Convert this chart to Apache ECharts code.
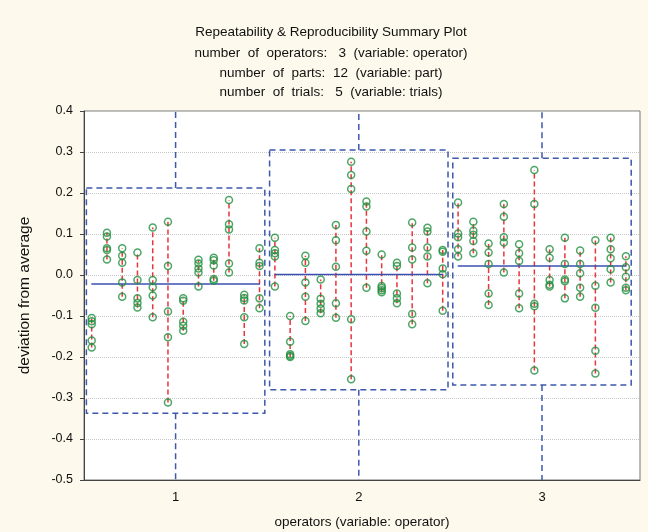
<!DOCTYPE html>
<html><head><meta charset="utf-8">
<script src="https://cdn.jsdelivr.net/npm/echarts@6/dist/echarts.min.js"></script>
<style>html,body{margin:0;padding:0;background:#fdf9ec}#c{width:648px;height:532px}</style>
</head><body><div id="c"></div>
<script>
// ---- text ----
const titleLines = [
  'Repeatability & Reproducibility Summary Plot',
  'number  of  operators:   3  (variable: operator)',
  'number  of  parts:  12  (variable: part)',
  'number  of  trials:   5  (variable: trials)'
];
const xAxisTitle = 'operators (variable: operator)';
const yAxisTitle = 'deviation from average';

// ---- categories / ticks ----
const operators = [1, 2, 3];
const yMin = -0.5, yMax = 0.4, yStep = 0.1;

// ---- per-operator summaries ----
const boxHigh = [0.212, 0.305, 0.285];
const boxLow = [-0.337, -0.28, -0.268];
const whiskerHigh = [0.4, 0.4, 0.4];
const whiskerLow = [-0.5, -0.5, -0.5];
const means = [-0.022, 0.001, 0.022];

// ---- measurements: operator -> part (12) -> trials (5) ----
const op1 = [
  [-0.105, -0.113, -0.12, -0.16, -0.177],
  [0.103, 0.094, 0.065, 0.061, 0.038],
  [0.065, 0.047, 0.03, -0.018, -0.053],
  [0.055, -0.012, -0.057, -0.068, -0.079],
  [0.116, -0.012, -0.03, -0.05, -0.103],
  [0.13, 0.022, -0.089, -0.152, -0.311],
  [-0.057, -0.063, -0.114, -0.124, -0.136],
  [0.037, 0.028, 0.016, 0.006, -0.028],
  [0.042, 0.036, 0.023, -0.01, -0.014],
  [0.183, 0.124, 0.111, 0.028, 0.006],
  [-0.048, -0.056, -0.062, -0.103, -0.168],
  [0.065, 0.03, 0.022, -0.057, -0.081]
];
const op2 = [
  [0.091, 0.061, 0.053, 0.045, -0.028],
  [-0.1, -0.163, -0.193, -0.197, -0.2],
  [0.047, 0.03, -0.018, -0.053, -0.112],
  [-0.011, -0.058, -0.07, -0.082, -0.093],
  [0.122, 0.085, 0.02, -0.069, -0.104],
  [0.276, 0.244, 0.21, -0.108, -0.254],
  [0.179, 0.167, 0.106, 0.059, -0.031],
  [0.05, -0.027, -0.032, -0.037, -0.042],
  [0.03, 0.022, -0.045, -0.057, -0.069],
  [0.128, 0.067, 0.038, -0.095, -0.12],
  [0.115, 0.106, 0.067, 0.045, -0.02],
  [0.061, 0.057, 0.016, 0.002, -0.087]
];
const op3 = [
  [0.177, 0.101, 0.092, 0.063, 0.045],
  [0.13, 0.108, 0.098, 0.083, 0.053],
  [0.077, 0.055, 0.027, -0.045, -0.073],
  [0.173, 0.142, 0.092, 0.079, 0.006],
  [0.075, 0.053, 0.034, -0.045, -0.081],
  [0.256, 0.173, -0.07, -0.076, -0.233],
  [0.063, 0.042, -0.012, -0.024, -0.028],
  [0.091, 0.027, -0.011, -0.015, -0.057],
  [0.06, 0.027, 0.004, -0.031, -0.053],
  [0.085, -0.026, -0.08, -0.185, -0.24],
  [0.091, 0.063, 0.041, 0.014, -0.018],
  [0.046, 0.019, -0.004, -0.031, -0.037]
];
const measurements = [op1, op2, op3];

// ---- layout constants ----
const FONT = '"Liberation Sans", Arial, sans-serif';
const BOX_HALF = 0.487;
const MEAN_HALF = 0.46;
const PART_SPAN = 0.458;
const nParts = 12;
const partOffset = k => -PART_SPAN + k * (2 * PART_SPAN / (nParts - 1));

// ---- build series data ----
const pointData = [];
const rangeData = [];
measurements.forEach((op, i) => {
  op.forEach((trials, k) => {
    const x = operators[i] + partOffset(k);
    trials.forEach(v => pointData.push([x, v]));
    rangeData.push([x, Math.min(...trials), Math.max(...trials)]);
  });
});
const boxData = operators.map((c, i) => [c, boxLow[i], boxHigh[i], whiskerLow[i], whiskerHigh[i]]);
const meanData = operators.map((c, i) => [c, means[i]]);

const chart = echarts.init(document.getElementById('c'), null, {renderer: 'canvas'});
const BLUE = '#3e58ad';
chart.setOption({
  backgroundColor: '#fdf9ec',
  animation: false,
  textStyle: {fontFamily: FONT},
  graphic: titleLines.map((t, i) => ({
    type: 'text', x: 331, y: [32, 53, 73, 92][i],
    style: {text: t, align: 'center', verticalAlign: 'middle', textAlign: 'center', textVerticalAlign: 'middle',
      fontSize: 13.5, fontFamily: FONT, fill: '#111'}
  })),
  grid: {left: 84, top: 111, width: 556, height: 369, show: true, backgroundColor: '#fff',
    borderColor: '#777', borderWidth: 1, containLabel: false, outerBoundsMode: 'none'},
  xAxis: {
    type: 'value', min: 0.5, max: 3.535, interval: 0.5,
    name: xAxisTitle, nameLocation: 'middle', nameGap: 35,
    nameTextStyle: {fontSize: 13.5, color: '#111', fontFamily: FONT},
    axisLine: {show: true, onZero: false, lineStyle: {color: '#444'}},
    axisTick: {show: false},
    splitLine: {show: false},
    axisLabel: {margin: 11, fontSize: 13, color: '#111', fontFamily: FONT,
      formatter: v => (Math.abs(v - Math.round(v)) < 1e-9 && operators.includes(Math.round(v))) ? String(Math.round(v)) : ''}
  },
  yAxis: {
    type: 'value', min: yMin, max: yMax, interval: yStep,
    name: yAxisTitle, nameLocation: 'middle', nameGap: 51,
    nameTextStyle: {fontSize: 15.5, color: '#111', fontFamily: FONT},
    axisLine: {show: true, onZero: false, lineStyle: {color: '#444'}},
    axisTick: {show: true, inside: false, length: 4, lineStyle: {color: '#444'}},
    splitLine: {show: true, lineStyle: {color: '#c8c8c8', type: 'dotted', width: 1}},
    axisLabel: {margin: 11, fontSize: 12.5, color: '#111', fontFamily: FONT,
      formatter: v => Math.abs(v) < 1e-9 ? '0.0' : v.toFixed(1)}
  },
  series: [
    {
      type: 'custom', name: 'box', data: boxData, clip: true, z: 2,
      renderItem: (params, api) => {
        const c = api.value(0), lo = api.value(1), hi = api.value(2), wl = api.value(3), wh = api.value(4);
        const tl = api.coord([c - BOX_HALF, hi]);
        const br = api.coord([c + BOX_HALF, lo]);
        const top = api.coord([c, wh]);
        const bot = api.coord([c, wl]);
        const st = {stroke: BLUE, lineWidth: 1.5, lineDash: [6, 4], fill: null};
        return {type: 'group', children: [
          {type: 'rect', shape: {x: tl[0], y: tl[1], width: br[0] - tl[0], height: br[1] - tl[1]}, style: st},
          {type: 'line', shape: {x1: top[0], y1: tl[1], x2: top[0], y2: top[1]}, style: st},
          {type: 'line', shape: {x1: bot[0], y1: br[1], x2: bot[0], y2: bot[1]}, style: st}
        ]};
      }
    },
    {
      type: 'custom', name: 'range', data: rangeData, z: 3,
      renderItem: (params, api) => {
        const a = api.coord([api.value(0), api.value(1)]);
        const b = api.coord([api.value(0), api.value(2)]);
        return {type: 'line', shape: {x1: a[0], y1: a[1], x2: b[0], y2: b[1]},
          style: {stroke: '#e8363c', lineWidth: 1.5, lineDash: [5, 3]}};
      }
    },
    {
      type: 'custom', name: 'mean', data: meanData, z: 4,
      renderItem: (params, api) => {
        const a = api.coord([api.value(0) - MEAN_HALF, api.value(1)]);
        const b = api.coord([api.value(0) + MEAN_HALF, api.value(1)]);
        return {type: 'line', shape: {x1: a[0], y1: a[1], x2: b[0], y2: b[1]},
          style: {stroke: '#3a4fb0', lineWidth: 1.5}};
      }
    },
    {
      type: 'scatter', name: 'trials', data: pointData, z: 5,
      symbol: 'circle', symbolSize: 7,
      itemStyle: {color: 'rgba(255,255,255,0)', borderColor: '#20903f', borderWidth: 1.5}
    }
  ]
});
</script></body></html>
